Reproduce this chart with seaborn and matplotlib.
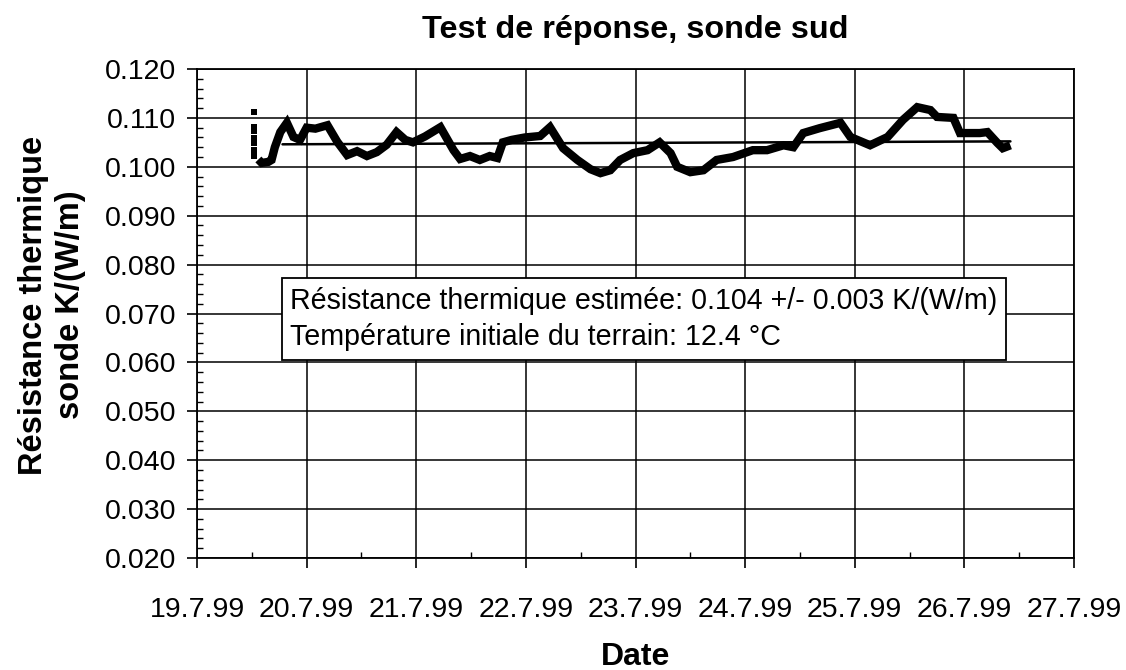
import matplotlib
matplotlib.use("Agg")
import matplotlib.pyplot as plt
import seaborn as sns
import pandas as pd
from matplotlib.ticker import MultipleLocator, FixedLocator, FixedFormatter

# ---- data (days since 19.7.99 00:00) ----
date_labels = ["19.7.99", "20.7.99", "21.7.99", "22.7.99", "23.7.99",
               "24.7.99", "25.7.99", "26.7.99", "27.7.99"]

start_days = [0.52, 0.52, 0.52, 0.52, 0.52, 0.52, 0.52]
start_vals = [0.1112, 0.1081, 0.1073, 0.1059, 0.1049, 0.1034, 0.1022]

days = [0.56, 0.59, 0.65, 0.68, 0.71, 0.76, 0.82, 0.88, 0.94, 1.00,
        1.08, 1.19, 1.28, 1.37, 1.46, 1.55, 1.64, 1.73, 1.82, 1.90,
        1.97, 2.08, 2.22, 2.34, 2.40, 2.49, 2.58, 2.67, 2.74, 2.79,
        2.87, 2.99, 3.13, 3.22, 3.34, 3.47, 3.59, 3.68, 3.77, 3.86,
        3.98, 4.11, 4.22, 4.32, 4.38, 4.50, 4.62, 4.74, 4.89, 5.07,
        5.20, 5.35, 5.44, 5.53, 5.68, 5.87, 5.96, 6.14, 6.30, 6.44,
        6.57, 6.69, 6.75, 6.90, 6.96, 7.14, 7.21, 7.30, 7.35, 7.42]
resistance = [0.1015, 0.1008, 0.1010, 0.1014, 0.1040, 0.1071, 0.1090, 0.1061, 0.1055, 0.1080,
              0.1078, 0.1085, 0.1051, 0.1024, 0.1032, 0.1022, 0.1030, 0.1045, 0.1071, 0.1055,
              0.1050, 0.1062, 0.1081, 0.1034, 0.1016, 0.1022, 0.1014, 0.1022, 0.1018, 0.1050,
              0.1055, 0.1060, 0.1063, 0.1081, 0.1038, 0.1014, 0.0995, 0.0987, 0.0993, 0.1014,
              0.1028, 0.1034, 0.1050, 0.1028, 0.1000, 0.0989, 0.0993, 0.1014, 0.1020, 0.1034,
              0.1034, 0.1044, 0.1040, 0.1069, 0.1079, 0.1090, 0.1061, 0.1044, 0.1061, 0.1096,
              0.1122, 0.1116, 0.1102, 0.1100, 0.1069, 0.1069, 0.1071, 0.1049, 0.1038, 0.1044]

fit_days = [0.78, 7.42]
fit_vals = [0.1046, 0.1052]

df = pd.DataFrame({"day": days, "R": resistance})
df_start = pd.DataFrame({"day": start_days, "R": start_vals})
df_fit = pd.DataFrame({"day": fit_days, "R": fit_vals})

# ---- style ----
sns.set_theme(style="white")
plt.rcParams["font.family"] = ["Liberation Sans", "DejaVu Sans"]

fig = plt.figure(figsize=(11.26, 6.70), dpi=100)
ax = fig.add_axes([197/1126, 1 - 558/670, (1074-197)/1126, (558-69)/670])

sns.lineplot(data=df, x="day", y="R", ax=ax, color="black", linewidth=6,
             solid_joinstyle="miter", solid_capstyle="butt")
sns.scatterplot(data=df_start, x="day", y="R", ax=ax, color="black",
                marker="s", s=16, linewidth=0)
sns.lineplot(data=df_fit, x="day", y="R", ax=ax, color="black", linewidth=1.8)

ax.set_xlim(0, 8)
ax.set_ylim(0.020, 0.120)

ax.xaxis.set_major_locator(FixedLocator(range(len(date_labels))))
ax.xaxis.set_major_formatter(FixedFormatter(date_labels))
ax.xaxis.set_minor_locator(MultipleLocator(0.5))
ax.yaxis.set_major_locator(MultipleLocator(0.010))
ax.yaxis.set_minor_locator(MultipleLocator(0.002))
ax.yaxis.set_major_formatter(matplotlib.ticker.FormatStrFormatter("%.3f"))

ax.grid(True, which="major", color="black", linewidth=1.1)
for s in ax.spines.values():
    s.set_color("black")
    s.set_linewidth(1.3)

ax.tick_params(axis="both", which="major", direction="out", length=7, width=1.2,
               color="black", labelsize=20.5, labelcolor="black")
ax.tick_params(axis="y", which="major", pad=8, left=True)
ax.tick_params(axis="x", which="major", pad=21, bottom=True)
ax.tick_params(axis="y", which="minor", direction="in", length=4, width=1.0,
               color="black", left=True)
ax.tick_params(axis="x", which="minor", direction="in", length=4, width=1.0,
               color="black", bottom=True)

ax.set_title("Test de réponse, sonde sud", fontsize=23.3, fontweight="bold",
             pad=22, color="black")
ax.set_xlabel("Date", fontsize=23, fontweight="bold", color="black")
ax.set_ylabel("Résistance thermique\nsonde K/(W/m)", fontsize=23.5,
              fontweight="bold", color="black", linespacing=1.25)
ax.xaxis.set_label_coords(0.5, -0.172)
ax.yaxis.set_label_coords(-0.127, 0.517)

ax.text(0.85, 0.0689,
        "Résistance thermique estimée: 0.104 +/- 0.003 K/(W/m)\n"
        "Température initiale du terrain: 12.4 °C",
        fontsize=20.6, color="black", va="center", ha="left", linespacing=1.38,
        bbox=dict(boxstyle="square,pad=0.3", facecolor="white",
                  edgecolor="black", linewidth=1.3), zorder=5)

fig.savefig("out.png", dpi=100, facecolor="white")
